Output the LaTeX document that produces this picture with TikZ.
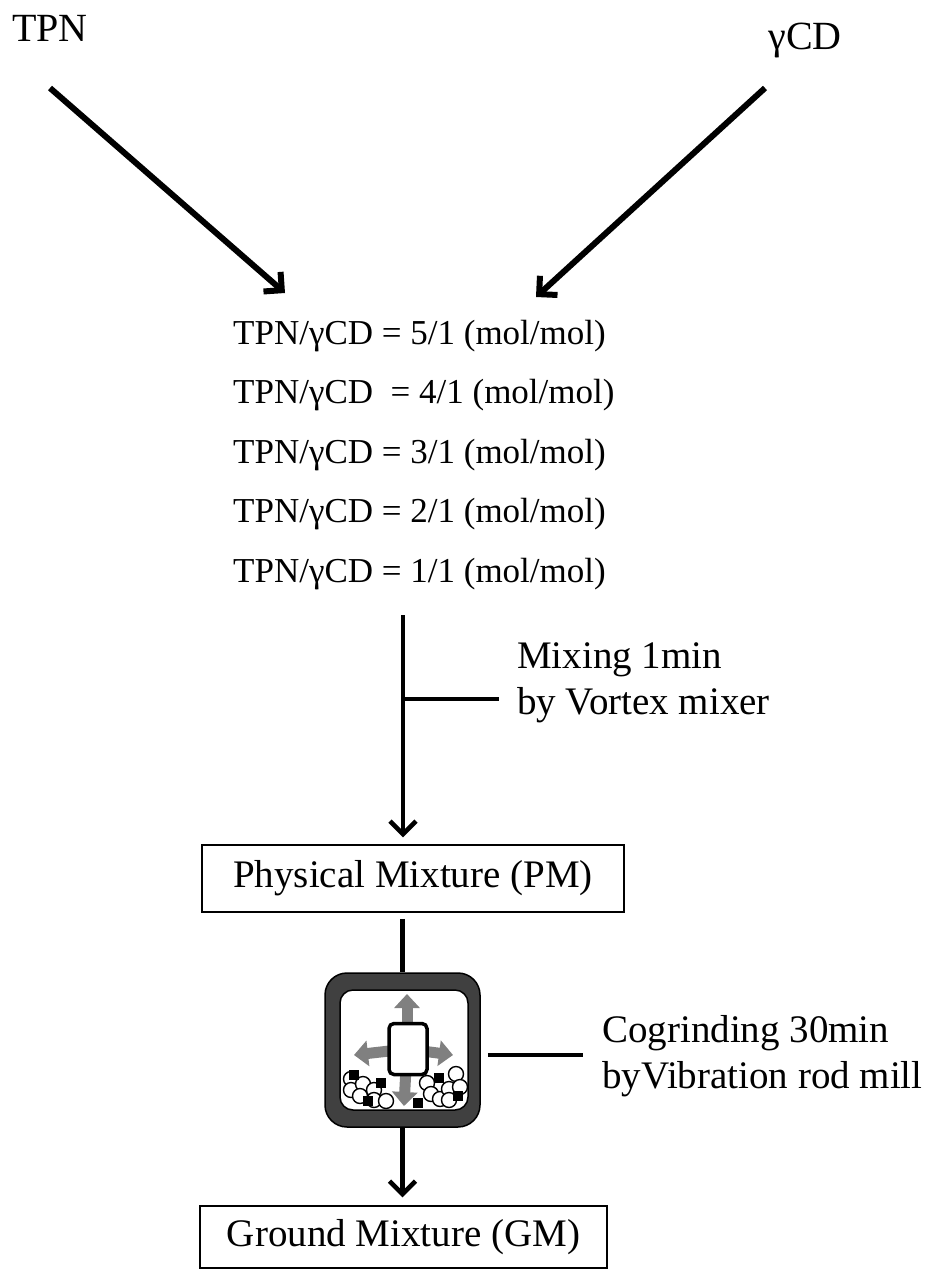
\documentclass[tikz,border=0pt]{standalone}
\usepackage{fontspec}
\setmainfont{Liberation Serif}
\usetikzlibrary{arrows.meta, positioning, calc}
\definecolor{millgray}{HTML}{404040}
\definecolor{shakegray}{HTML}{808080}

\begin{document}
\begin{tikzpicture}[
    x=1pt, y=-1pt,
    >={Straight Barb[length=13pt,width=26pt]},
    feed/.style={line width=6pt, ->},
    flow/.style={line width=4.5pt},
    reagent/.style={anchor=base, inner sep=0pt, font=\fontsize{40}{46}\selectfont},
    ratio/.style={anchor=base west, inner sep=0pt, font=\fontsize{35}{40}\selectfont},
    note/.style={anchor=base west, inner sep=0pt, align=left, font=\fontsize{39}{46}\selectfont},
    stagebox/.style={draw, line width=1.5pt, inner sep=0pt, font=\fontsize{39}{46}\selectfont},
    shake/.style={draw=shakegray, line width=11pt, -{Triangle[length=14pt,width=25pt]}},
    grain/.style={draw, fill=white, line width=1.4pt},
]
\useasboundingbox (0,0) rectangle (939,1270);

% Starting materials
\node[reagent] (tpn) at (50,41) {TPN};
\node[reagent] (gcd) at (805,49) {γCD};
\coordinate (tpnfoot) at (50,88);
\coordinate (gcdfoot) at (765,88);
\coordinate (tpnin) at (285,293);
\coordinate (gcdin) at (536,297);
\draw[feed] (tpnfoot) -- (tpnin);
\draw[feed] (gcdfoot) -- (gcdin);

% Molar ratios
\node[ratio] (r5) at (233,344.0) {TPN/γCD = 5/1 (mol/mol)};
\node[ratio] (r4) at (233,403.6) {TPN/γCD \ = 4/1 (mol/mol)};
\node[ratio] (r3) at (233,463.2) {TPN/γCD = 3/1 (mol/mol)};
\node[ratio] (r2) at (233,522.8) {TPN/γCD = 2/1 (mol/mol)};
\node[ratio] (r1) at (233,582.4) {TPN/γCD = 1/1 (mol/mol)};

% Mixing step
\node[stagebox, minimum width=422pt, minimum height=67pt] (pm) at (413,878.5)
    {Physical Mixture (PM)};
\coordinate (mixtop) at (403,615);
\coordinate (mixtap) at (403,699);
\node[note] (mixnote) at (517,714) {Mixing 1min\\by Vortex mixer};
\draw[flow, ->, shorten >=7pt] (mixtop) -- (mixtop |- pm.north);
\draw[flow, shorten >=18pt] (mixtap) -- (mixtap -| mixnote.west);

% Vibration rod mill
\node[draw, fill=millgray, line width=1.5pt, rounded corners=22pt,
    minimum width=155pt, minimum height=154pt] (mill) at (402.5,1050) {};
\node[draw, fill=white, line width=1.5pt, rounded corners=13pt,
    minimum width=128pt, minimum height=120pt] (pot) at (404,1050) {};
\coordinate (rodc) at (407,1049);
\draw[shake] (rodc) -- (407,994);
\draw[shake] (rodc) -- (354,1055);
\draw[shake] (rodc) -- (453,1055);
\draw[shake] (rodc) -- (404,1106);
\node[draw, fill=white, line width=3.5pt, rounded corners=5pt,
    minimum width=38pt, minimum height=51pt] (rod) at (408,1049) {};

% powder in the pot
\foreach \x/\y in {351/1079, 351/1090, 363/1084, 360/1096, 374/1090, 374/1100, 386/1101,
                   427/1083, 431/1094, 440/1099, 449/1089, 449/1100, 456/1074, 460/1087}
    \draw[grain] (\x,\y) circle (7.5pt);
\foreach \x/\y in {354/1075, 381/1083, 368/1101, 439/1078, 418/1103, 458/1096}
    \fill (\x-5,\y-5) rectangle (\x+5,\y+5);

\draw[flow, shorten <=6pt] (mill.north |- pm.south) -- (mill.north);

% Grinding step
\node[stagebox, minimum width=407pt, minimum height=62pt] (gm) at (403.5,1237)
    {Ground Mixture (GM)};
\node[note] (grindnote) at (602,1088) {Cogrinding 30min\\byVibration rod mill};
\draw[flow, ->, shorten >=8pt] (mill.south) -- (mill.south |- gm.north);
\draw[flow, shorten <=7pt, shorten >=19pt] ([yshift=-5pt]mill.east) -- ([yshift=-5pt]mill.east -| grindnote.west);

\end{tikzpicture}
\end{document}
